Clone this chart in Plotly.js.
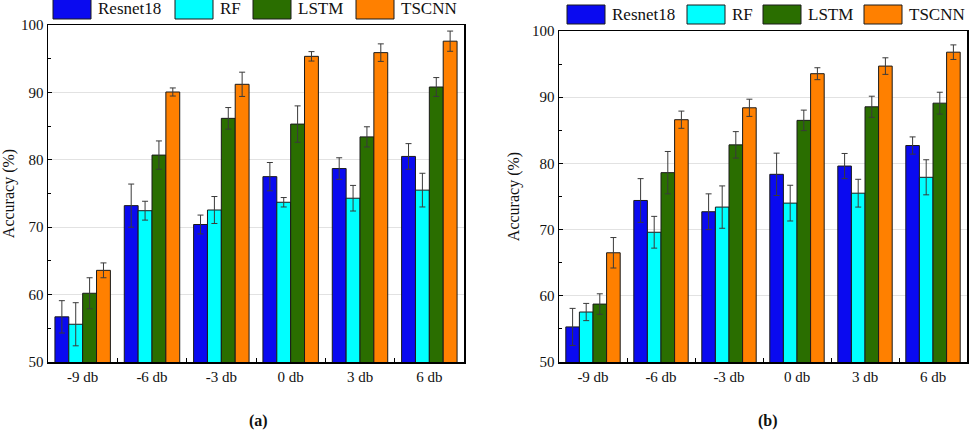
<!DOCTYPE html>
<html>
<head>
<meta charset="utf-8">
<script src="https://cdn.plot.ly/plotly-3.0.1.min.js"></script>
<style>html,body{margin:0;padding:0;background:#fff;}#chart{width:969px;height:431px;}</style>
</head>
<body>
<div id="chart"></div>
<script>
// ---- data ----
const categories = ['-9 db', '-6 db', '-3 db', '0 db', '3 db', '6 db'];
const seriesNames = ['Resnet18', 'RF', 'LSTM', 'TSCNN'];
const seriesColors = ['#0a0af0', '#00ffff', '#2a6e00', '#ff8000'];

// panel (a)
const resnetA = [56.7, 73.2, 70.4, 77.5, 78.7, 80.5];
const resnetErrA = [2.4, 3.2, 1.4, 2.1, 1.6, 1.9];
const rfA = [55.6, 72.45, 72.55, 73.7, 74.3, 75.5];
const rfErrA = [3.2, 1.4, 2.0, 0.7, 1.9, 2.5];
const lstmA = [60.2, 80.7, 86.15, 85.3, 83.4, 90.8];
const lstmErrA = [2.3, 2.1, 1.6, 2.7, 1.5, 1.4];
const tscnnA = [63.6, 90.06, 91.2, 95.35, 95.9, 97.6];
const tscnnErrA = [1.1, 0.6, 1.8, 0.7, 1.3, 1.5];

// panel (b)
const resnetB = [55.3, 74.4, 72.7, 78.35, 79.6, 82.7];
const resnetErrB = [2.8, 3.3, 2.7, 3.2, 1.9, 1.3];
const rfB = [57.55, 69.6, 73.4, 74.0, 75.5, 77.9];
const rfErrB = [1.3, 2.4, 3.2, 2.7, 2.1, 2.65];
const lstmB = [58.75, 78.6, 82.8, 86.5, 88.55, 89.1];
const lstmErrB = [1.55, 3.2, 2.0, 1.55, 1.6, 1.65];
const tscnnB = [66.5, 86.6, 88.4, 93.55, 94.7, 96.8];
const tscnnErrB = [2.3, 1.3, 1.3, 0.9, 1.25, 1.1];

const yTickVals = [50, 60, 70, 80, 90, 100];
const yTickText = ['50', '60', '70', '80', '90', '100'];
const panelLabels = ['(a)', '(b)'];
const yTitle = 'Accuracy (%)';

// ---- build ----
const W = 969, H = 431;
const FONT = 'Liberation Serif';
const px = x => x / W;
const py = y => 1 - y / H;

const panelA = [[resnetA, resnetErrA], [rfA, rfErrA], [lstmA, lstmErrA], [tscnnA, tscnnErrA]];
const panelB = [[resnetB, resnetErrB], [rfB, rfErrB], [lstmB, lstmErrB], [tscnnB, tscnnErrB]];

const traces = [];
function addPanel(panel, xa, ya) {
  panel.forEach((s, i) => {
    traces.push({
      type: 'bar', x: categories, y: s[0], name: seriesNames[i],
      xaxis: xa, yaxis: ya, showlegend: false,
      marker: { color: seriesColors[i], line: { color: '#1a1a1a', width: 1 } },
      error_y: { type: 'data', array: s[1], visible: true, color: '#3a3a3a', thickness: 1, width: 3 }
    });
  });
}
addPanel(panelA, 'x', 'y');
addPanel(panelB, 'x2', 'y2');

function xAxis(domain, anchor) {
  return {
    domain: domain, anchor: anchor, type: 'category',
    showline: true, linecolor: '#000', linewidth: 1.5, mirror: true,
    ticks: 'inside', tickson: 'boundaries', ticklen: 4, tickcolor: '#000',
    showgrid: false, zeroline: false,
    tickfont: { family: FONT, size: 15, color: '#111' }
  };
}
function yAxis(domain, anchor) {
  return {
    domain: domain, anchor: anchor, range: [50, 100],
    tickvals: yTickVals, ticktext: yTickText,
    showline: true, linecolor: '#000', linewidth: 1.5, mirror: true,
    ticks: 'inside', ticklen: 4, tickcolor: '#000',
    minor: { dtick: 5, ticks: 'inside', ticklen: 3, tickcolor: '#000', showgrid: false },
    showgrid: true, gridcolor: '#e2e2e2', gridwidth: 1, zeroline: false,
    tickfont: { family: FONT, size: 15, color: '#111' },
    title: { text: yTitle, font: { family: FONT, size: 16, color: '#111' }, standoff: 8 }
  };
}

const shapes = [];
const annotations = [];
// custom legends (large rectangular swatches)
const legendSpecs = [
  { starts: [53, 175, 253, 356], top: -1, h: 20 },
  { starts: [567, 687, 763, 864], top: 5, h: 19 }
];
legendSpecs.forEach(spec => {
  seriesNames.forEach((name, i) => {
    const x0 = spec.starts[i];
    shapes.push({
      type: 'rect', xref: 'paper', yref: 'paper',
      x0: px(x0), x1: px(x0 + 38), y0: py(spec.top + spec.h), y1: py(spec.top),
      fillcolor: seriesColors[i], line: { color: '#1a1a1a', width: 1 }
    });
    annotations.push({
      xref: 'paper', yref: 'paper', x: px(x0 + 43), y: py(spec.top + spec.h / 2),
      xanchor: 'left', yanchor: 'middle', showarrow: false, text: name,
      font: { family: FONT, size: 17, color: '#111' }
    });
  });
});
// panel captions
[258, 768].forEach((cx, i) => {
  annotations.push({
    xref: 'paper', yref: 'paper', x: px(cx), y: py(421), xanchor: 'center', yanchor: 'middle',
    showarrow: false, text: '<b>' + panelLabels[i] + '</b>',
    font: { family: FONT, size: 16, color: '#111' }
  });
});

const layout = {
  width: W, height: H,
  margin: { l: 0, r: 0, t: 0, b: 0 },
  paper_bgcolor: '#fff', plot_bgcolor: '#fff',
  barmode: 'group', bargap: 0.2, bargroupgap: 0,
  showlegend: false,
  font: { family: FONT, color: '#111' },
  xaxis: xAxis([px(48), px(464)], 'y'),
  yaxis: yAxis([py(362), py(25)], 'x'),
  xaxis2: xAxis([px(559), px(967)], 'y2'),
  yaxis2: yAxis([py(362), py(31)], 'x2'),
  shapes: shapes,
  annotations: annotations
};

Plotly.newPlot('chart', traces, layout, { displayModeBar: false, staticPlot: true });
</script>
</body>
</html>
